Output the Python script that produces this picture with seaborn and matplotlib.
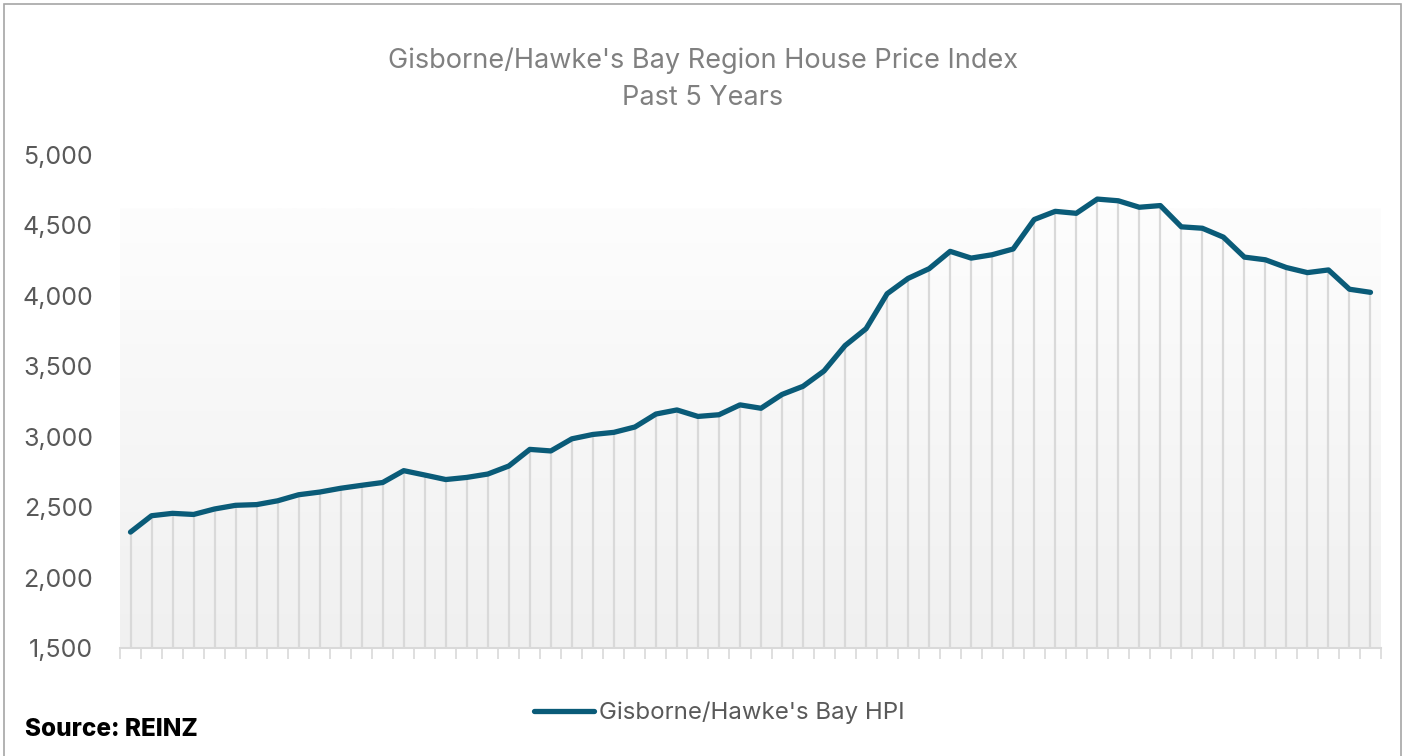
import numpy as np
import pandas as pd
import matplotlib.pyplot as plt
import seaborn as sns
from matplotlib.patches import Rectangle

# Monthly HPI values, past 5 years
hpi_values = [
    2323, 2439, 2456, 2448, 2487, 2513, 2518, 2545, 2588, 2607,
    2634, 2655, 2675, 2759, 2728, 2696, 2711, 2735, 2792, 2910,
    2899, 2985, 3016, 3031, 3069, 3161, 3190, 3144, 3156, 3226,
    3202, 3300, 3358, 3467, 3647, 3767, 4015, 4124, 4193, 4316,
    4268, 4292, 4333, 4542, 4600, 4586, 4687, 4675, 4629, 4641,
    4490, 4480, 4417, 4275, 4256, 4201, 4165, 4184, 4047, 4025,
]
y_ticks = [1500, 2000, 2500, 3000, 3500, 4000, 4500, 5000]
series_name = "Gisborne/Hawke's Bay HPI"
title_text = "Gisborne/Hawke's Bay Region House Price Index\nPast 5 Years"
source_text = "Source: REINZ"

LINE_COLOR = "#0a5b78"
TEXT_GREY = "#595959"

sns.set_theme(style="white")
plt.rcParams['font.family'] = ['Inter', 'DejaVu Sans']

df = pd.DataFrame({"month": np.arange(len(hpi_values)), "hpi": hpi_values})

fig = plt.figure(figsize=(14.05, 7.56), dpi=100)
ax = fig.add_axes([120 / 1405, 1 - 648 / 756, (1381 - 120) / 1405, (648 - 155) / 756])

# Gradient plot-area background (grey at the bottom fading to white)
grad = np.linspace(0, 1, 256).reshape(-1, 1)
ax.imshow(grad, extent=(-0.5, len(hpi_values) - 0.5, 1500, 4620), aspect='auto',
          cmap=sns.blend_palette(["#f0f0f0", "#fdfdfd"], as_cmap=True),
          origin='lower', zorder=0)

# Drop lines from each point to the axis
ax.vlines(df["month"], 1500, df["hpi"], color="#d9d9d9", linewidth=1.6, zorder=1)

sns.lineplot(data=df, x="month", y="hpi", ax=ax, color=LINE_COLOR, linewidth=3.8,
             label=series_name, zorder=3, solid_capstyle='round')

ax.set_xlim(-0.5, len(hpi_values) - 0.5)
ax.set_ylim(1500, 5000)
ax.set_yticks(y_ticks)
ax.set_yticklabels([f"{v:,}" for v in y_ticks], fontsize=18, color=TEXT_GREY)
ax.set_xticks(np.arange(-0.5, len(hpi_values), 1.0))
ax.set_xticklabels([])
ax.tick_params(axis='x', direction='out', length=8, width=1.2, color="#d9d9d9", bottom=True)
ax.tick_params(axis='y', length=0, pad=19.5)
ax.set_xlabel("")
ax.set_ylabel("")

for side in ["top", "right", "left"]:
    ax.spines[side].set_visible(False)
ax.spines["bottom"].set_color("#d9d9d9")
ax.spines["bottom"].set_linewidth(1.5)

ax.get_legend().remove()
handles, labels = ax.get_legend_handles_labels()
fig.legend(handles, labels, loc='center', bbox_to_anchor=(0.5 + 17 / 1405, 1 - 713 / 756),
           frameon=False, fontsize=17.3, handlelength=2.5, handletextpad=0.2,
           labelcolor=TEXT_GREY)

fig.text(0.5, 1 - 79 / 756, title_text, ha='center', va='center', fontsize=19.5,
         color="#808080", linespacing=1.55)
fig.text(25 / 1405, 1 - 730 / 756, source_text, ha='left', va='center', fontsize=17.5,
         fontweight='heavy', color='black')

# Chart border
fig.patches.append(Rectangle((4 / 1405, -0.01), 1 - 8 / 1405, 1 - 4 / 756 + 0.01,
                             transform=fig.transFigure, fill=False,
                             edgecolor="#a6a6a6", linewidth=1.2))

plt.savefig("out.png", dpi=100)
plt.close()
